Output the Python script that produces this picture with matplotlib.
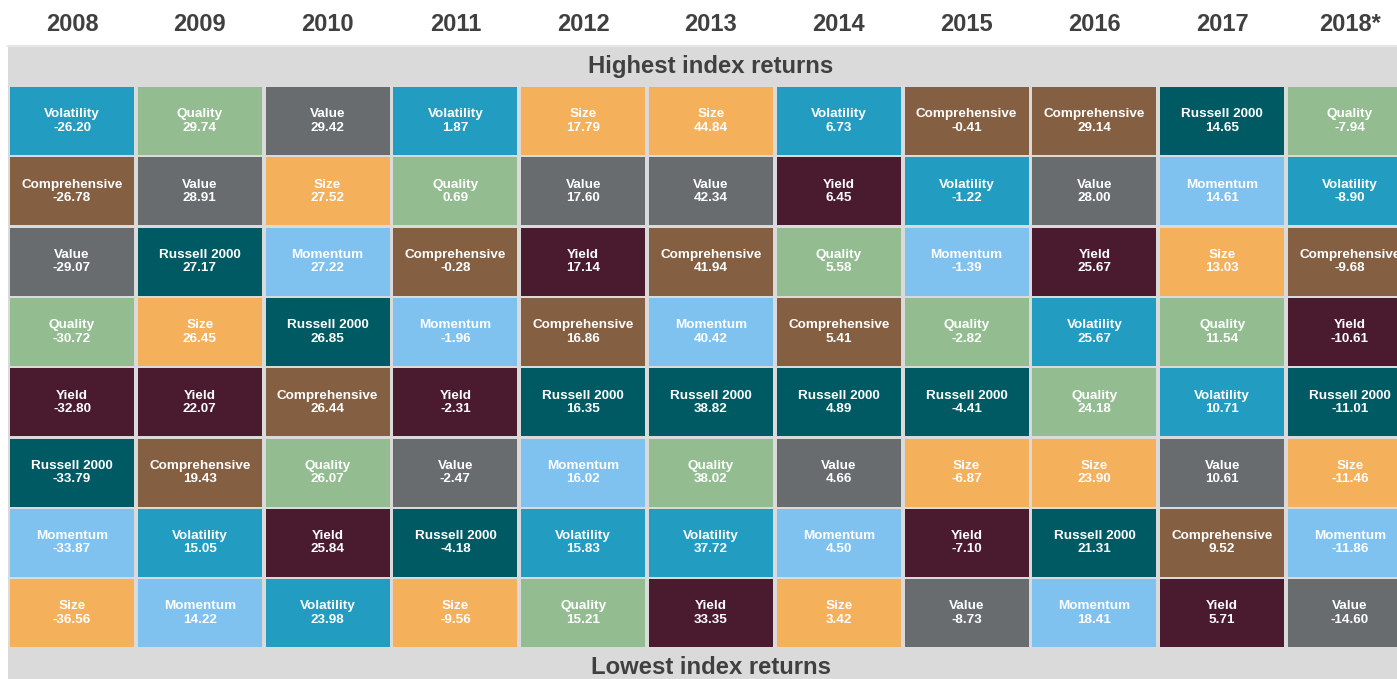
import matplotlib
matplotlib.use("Agg")
import matplotlib.pyplot as plt
from matplotlib.patches import Rectangle

plt.rcParams['font.family'] = ['Liberation Sans', 'DejaVu Sans']

years = ['2008', '2009', '2010', '2011', '2012', '2013', '2014', '2015', '2016', '2017', '2018*']

# ranked highest -> lowest for each year
names = [
    ['Volatility', 'Comprehensive', 'Value', 'Quality', 'Yield', 'Russell 2000', 'Momentum', 'Size'],
    ['Quality', 'Value', 'Russell 2000', 'Size', 'Yield', 'Comprehensive', 'Volatility', 'Momentum'],
    ['Value', 'Size', 'Momentum', 'Russell 2000', 'Comprehensive', 'Quality', 'Yield', 'Volatility'],
    ['Volatility', 'Quality', 'Comprehensive', 'Momentum', 'Yield', 'Value', 'Russell 2000', 'Size'],
    ['Size', 'Value', 'Yield', 'Comprehensive', 'Russell 2000', 'Momentum', 'Volatility', 'Quality'],
    ['Size', 'Value', 'Comprehensive', 'Momentum', 'Russell 2000', 'Quality', 'Volatility', 'Yield'],
    ['Volatility', 'Yield', 'Quality', 'Comprehensive', 'Russell 2000', 'Value', 'Momentum', 'Size'],
    ['Comprehensive', 'Volatility', 'Momentum', 'Quality', 'Russell 2000', 'Size', 'Yield', 'Value'],
    ['Comprehensive', 'Value', 'Yield', 'Volatility', 'Quality', 'Size', 'Russell 2000', 'Momentum'],
    ['Russell 2000', 'Momentum', 'Size', 'Quality', 'Volatility', 'Value', 'Comprehensive', 'Yield'],
    ['Quality', 'Volatility', 'Comprehensive', 'Yield', 'Russell 2000', 'Size', 'Momentum', 'Value'],
]
returns = [
    [-26.20, -26.78, -29.07, -30.72, -32.80, -33.79, -33.87, -36.56],
    [29.74, 28.91, 27.17, 26.45, 22.07, 19.43, 15.05, 14.22],
    [29.42, 27.52, 27.22, 26.85, 26.44, 26.07, 25.84, 23.98],
    [1.87, 0.69, -0.28, -1.96, -2.31, -2.47, -4.18, -9.56],
    [17.79, 17.60, 17.14, 16.86, 16.35, 16.02, 15.83, 15.21],
    [44.84, 42.34, 41.94, 40.42, 38.82, 38.02, 37.72, 33.35],
    [6.73, 6.45, 5.58, 5.41, 4.89, 4.66, 4.50, 3.42],
    [-0.41, -1.22, -1.39, -2.82, -4.41, -6.87, -7.10, -8.73],
    [29.14, 28.00, 25.67, 25.67, 24.18, 23.90, 21.31, 18.41],
    [14.65, 14.61, 13.03, 11.54, 10.71, 10.61, 9.52, 5.71],
    [-7.94, -8.90, -9.68, -10.61, -11.01, -11.46, -11.86, -14.60],
]

colors = {
    'Volatility': '#229CC0',
    'Quality': '#93BD91',
    'Value': '#686C6F',
    'Comprehensive': '#855F41',
    'Yield': '#4A1A2F',
    'Russell 2000': '#005A64',
    'Momentum': '#7FC2F0',
    'Size': '#F5B05C',
}

fig = plt.figure(figsize=(13.97, 6.79), dpi=100)
ax = fig.add_axes([0, 0, 1, 1])
ax.set_xlim(-0.5634, 10.368)
ax.set_ylim(7.937, -1.721)
ax.axis('off')

tw, th = 0.97, 0.967
nrows = len(names[0])

# grey background panel with the two bands
ax.add_patch(Rectangle((-0.5008, -1.067), 12, nrows + 2, facecolor='#DADADA',
                       edgecolor='none', zorder=0))
ax.plot([-0.5008, 11], [-1.067, -1.067], color='#E6E6E6', lw=1.5, zorder=1)

for c, yr in enumerate(years):
    ax.text(c, -1.37, yr, ha='center', va='center', fontsize=17,
            fontweight='bold', color='#404040')
    for r in range(nrows):
        nm = names[c][r]
        ax.add_patch(Rectangle((c - tw / 2, r - th / 2), tw, th,
                               facecolor=colors[nm], edgecolor='none', zorder=2))
        ax.text(c, r, f"{nm}\n{returns[c][r]:.2f}", ha='center', va='center',
                fontsize=9.7, fontweight='bold', color='white',
                linespacing=1.15, zorder=3)

ax.text(5, -0.78, 'Highest index returns', ha='center', va='center',
        fontsize=17.2, fontweight='bold', color='#404040')
ax.text(5, 7.77, 'Lowest index returns', ha='center', va='center',
        fontsize=17.2, fontweight='bold', color='#404040')

fig.savefig('out.png', dpi=100)
